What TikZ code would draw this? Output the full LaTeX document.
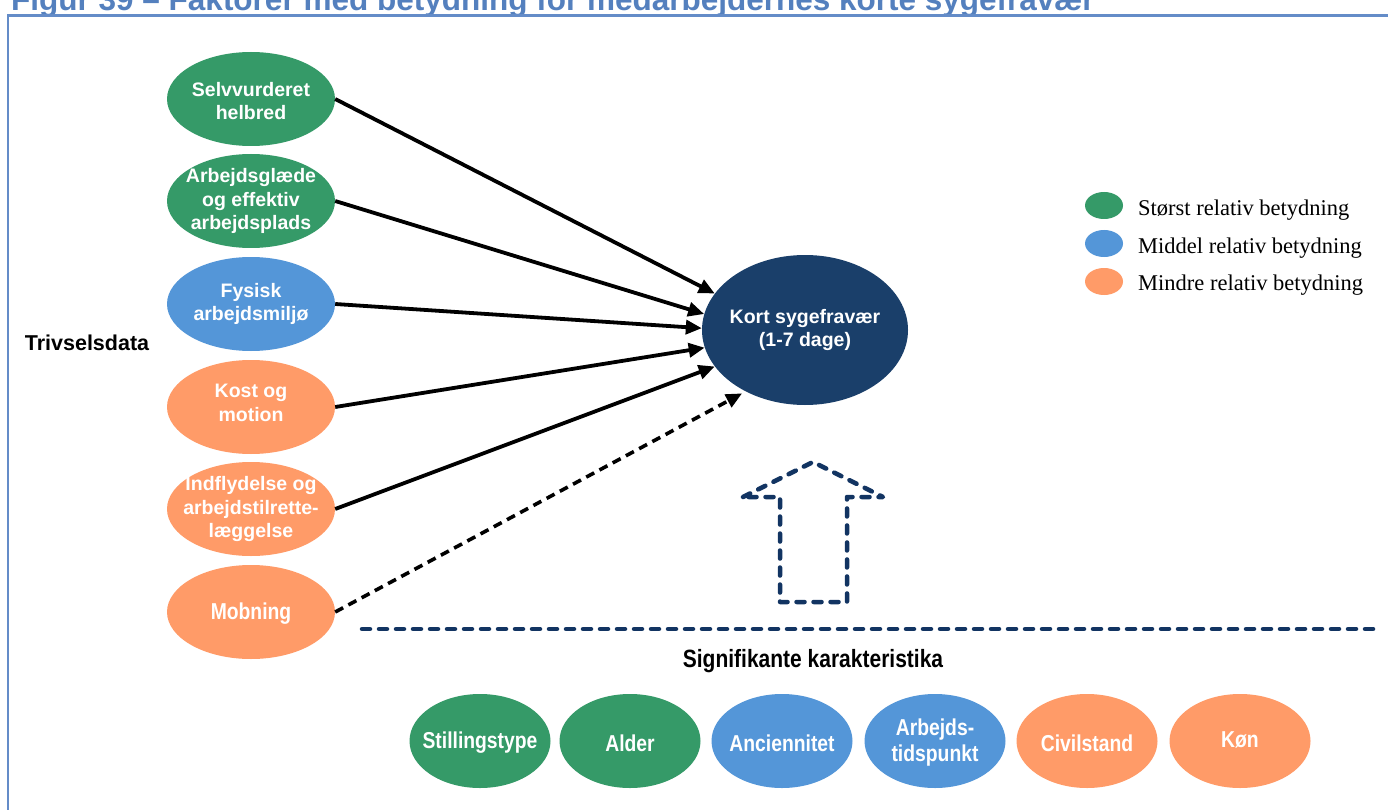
\documentclass[tikz,border=0pt]{standalone}
\usepackage{fontspec}
\setsansfont{Liberation Sans}
\newfontfamily\arialf{Liberation Sans}
\newfontfamily\narrowf[FakeStretch=0.84]{Liberation Sans}
\newfontfamily\timesf{Liberation Serif}
\usetikzlibrary{shapes.geometric,arrows.meta}
\definecolor{cgreen}{RGB}{53,154,104}
\definecolor{cblue}{RGB}{84,150,216}
\definecolor{corange}{RGB}{255,155,104}
\definecolor{cnavy}{RGB}{26,63,106}
\definecolor{dnavy}{RGB}{18,52,98}
\definecolor{ftitle}{RGB}{84,128,190}
\definecolor{frame}{RGB}{100,140,200}
\tikzset{
  oval/.style={ellipse, minimum width=168pt, minimum height=94pt, inner sep=0pt, draw=none},
  boval/.style={ellipse, minimum width=141pt, minimum height=94pt, inner sep=0pt, draw=none},
  lego/.style={ellipse, minimum width=38pt, minimum height=27pt, inner sep=0pt, draw=none},
  otext/.style={text=white, align=center, inner sep=0pt, font=\arialf\bfseries\fontsize{19.5}{23.5}\selectfont},
  ntext/.style={text=white, align=center, inner sep=0pt, yshift=-2pt, font=\narrowf\bfseries\fontsize{23}{26}\selectfont},
  legtext/.style={anchor=base west, inner sep=0pt, font=\timesf\fontsize{22.5}{26}\selectfont},
  arr/.style={line width=3.8pt, -{Triangle[length=16pt,width=14pt]}},
  darr/.style={line width=3.6pt, dash pattern=on 9pt off 6pt, -{Triangle[length=16pt,width=14pt]}},
  navydash/.style={draw=dnavy, line width=4.5pt, line cap=round, line join=round, dash pattern=on 8pt off 9pt},
}
\begin{document}
\begin{tikzpicture}[x=1pt,y=-1pt]
\useasboundingbox (0,0) rectangle (1388,810);
\clip (0,0) rectangle (1388,810);
\fill[white] (0,0) rectangle (1388,810);
% title (cut at top, as in the reference)
\node[anchor=base west, inner sep=0pt, text=ftitle, font=\arialf\bfseries\fontsize{31.5}{36}\selectfont] (title) at (11,11) {Figur 39 – Faktorer med betydning for medarbejdernes korte sygefravær};
% frame
\draw[frame, line width=2.5pt] (8,830) -- (8,15.5) -- (1400,15.5);
% left factors
\node[oval, fill=cgreen, label={[otext,yshift=-2pt]center:Selvvurderet\\helbred}] (sel) at (251,99) {};
\node[oval, fill=cgreen, label={[otext]center:Arbejdsglæde\\og effektiv\\arbejdsplads}] (glaede) at (251,201) {};
\node[oval, fill=cblue, label={[otext]center:Fysisk\\arbejdsmiljø}] (fys) at (251,304) {};
\node[oval, fill=corange, label={[otext,yshift=4pt]center:Kost og\\motion}] (kost) at (251,407) {};
\node[oval, fill=corange, label={[otext]center:Indflydelse og\\arbejdstilrette-\\læggelse}] (indf) at (251,509) {};
\node[oval, fill=corange, label={[ntext]center:Mobning}] (mob) at (251,612) {};
\node[inner sep=0pt, font=\arialf\bfseries\fontsize{21.5}{25}\selectfont] (triv) at (87,343) {Trivselsdata};
% centre
\node[ellipse, minimum width=206pt, minimum height=150pt, inner sep=0pt, fill=cnavy, label={[otext]center:Kort sygefravær\\(1-7 dage)}] (kort) at (805,330) {};
% arrows
\draw[arr] (sel.east) -- (kort.158);
\draw[arr] (glaede.east) -- (kort.171);
\draw[arr] (fys.east) -- (kort.179);
\draw[arr] (kost.east) -- (kort.190);
\draw[arr] (indf.east) -- (kort.202);
\draw[darr, shorten >=4pt] (mob.east) -- (kort.226);
% block arrow and separator
\draw[navydash] (743,497) -- (813,462) -- (883,497) -- (847,497) -- (847,602) -- (780,602) -- (780,497) -- cycle;
\coordinate (sepL) at (362,629);
\coordinate (sepR) at (1378,629);
\draw[navydash] (sepL) -- (sepR);
\node[inner sep=0pt, font=\narrowf\bfseries\fontsize{25}{28}\selectfont] (sig) at (813,661) {Signifikante karakteristika};
% bottom row
\node[boval, fill=cgreen, label={[ntext]center:Stillingstype}] (still) at (480,741) {};
\node[boval, fill=cgreen, label={[ntext]center:Alder}] (alder) at (630,741) {};
\node[boval, fill=cblue, label={[ntext]center:Anciennitet}] (anc) at (782,741) {};
\node[boval, fill=cblue, label={[ntext]center:Arbejds-\\tidspunkt}] (arbt) at (935,741) {};
\node[boval, fill=corange, label={[ntext]center:Civilstand}] (civ) at (1087,741) {};
\node[boval, fill=corange, label={[ntext,yshift=3pt]center:Køn}] (koen) at (1240,741) {};
% legend
\node[lego, fill=cgreen] (l1) at (1104,205.5) {};
\node[lego, fill=cblue] (l2) at (1104,243.5) {};
\node[lego, fill=corange] (l3) at (1104,281.5) {};
\node[legtext] (t1) at (1138,216) {Størst relativ betydning};
\node[legtext] (t2) at (1138,254) {Middel relativ betydning};
\node[legtext] (t3) at (1138,290) {Mindre relativ betydning};
\end{tikzpicture}
\end{document}
